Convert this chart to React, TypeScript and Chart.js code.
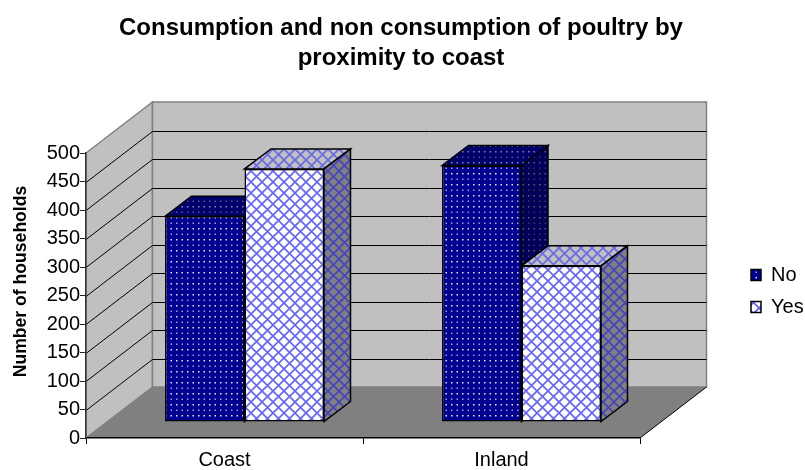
import React, { useEffect, useRef } from "react";
import { Chart, registerables } from "chart.js";

Chart.register(...registerables);

const categories = ["Coast", "Inland"];
const noValues = [361, 450];
const yesValues = [444, 274];
const titleLines = ["Consumption and non consumption of poultry by", "proximity to coast"];
const yAxisTitle = "Number of households";
const seriesNames = ["No", "Yes"];

const FONT = "'Liberation Sans', Arial, sans-serif";
const WALL = { dx: 66.5, dy: 51 };
const BAR_SHIFT = { dx: 20, dy: 16 };
const BAR_DEPTH = { dx: 26.5, dy: 20 };

function tile(size: number, paint: (c: CanvasRenderingContext2D) => void): CanvasPattern {
  const cv = document.createElement("canvas");
  cv.width = size;
  cv.height = size;
  const c = cv.getContext("2d")!;
  paint(c);
  return c.createPattern(cv, "repeat")!;
}

function dots(bg: string, bright: string, dim: string) {
  return tile(11, (c) => {
    c.fillStyle = bg;
    c.fillRect(0, 0, 11, 11);
    c.fillStyle = bright;
    c.fillRect(2, 2, 1.5, 1.5);
    c.fillRect(7.5, 2, 1.5, 1.5);
    c.fillStyle = dim;
    c.fillRect(2, 7.5, 1.5, 1.5);
    c.fillRect(7.5, 7.5, 1.5, 1.5);
  });
}

function cross(bg: string, line: string) {
  return tile(11, (c) => {
    c.fillStyle = bg;
    c.fillRect(0, 0, 11, 11);
    c.strokeStyle = line;
    c.lineWidth = 1.7;
    c.beginPath();
    c.moveTo(-1, -1);
    c.lineTo(12, 12);
    c.moveTo(-1, 12);
    c.lineTo(12, -1);
    c.stroke();
  });
}

function poly(ctx: CanvasRenderingContext2D, pts: number[][], fill: any, stroke?: string, lw = 1) {
  ctx.beginPath();
  pts.forEach((p, i) => (i ? ctx.lineTo(p[0], p[1]) : ctx.moveTo(p[0], p[1])));
  ctx.closePath();
  if (fill) {
    ctx.fillStyle = fill;
    ctx.fill();
  }
  if (stroke) {
    ctx.strokeStyle = stroke;
    ctx.lineWidth = lw;
    ctx.stroke();
  }
}

export default function App() {
  const ref = useRef<HTMLCanvasElement>(null);

  useEffect(() => {
    const faces = [
      { top: dots("#00006c", "#8a8ab8", "#50508a"), side: dots("#000058", "#60607f", "#34346a") },
      { top: cross("#c0c0c0", "#6a6ae6"), side: cross("#808080", "#4444c0") },
    ];

    const depthPlugin = {
      id: "depth3d",
      afterLayout(chart: any) {
        chart.titleBlock.left = 0;
        chart.titleBlock.right = 802;
        const lg = chart.legend;
        lg.left = 739;
        lg.top = 253;
        lg.right = lg.left + lg.width;
        lg.bottom = lg.top + lg.height;
        const ys = chart.scales.y;
        if (!ys.__shifted) {
          const orig = ys.drawTitle;
          ys.drawTitle = function () {
            const c = this.ctx;
            c.save();
            c.translate(0, -14);
            orig.call(this);
            c.restore();
          };
          ys.__shifted = true;
        }
      },
      beforeDraw(chart: any) {
        const { ctx, chartArea: a, scales } = chart;
        const { dx, dy } = WALL;
        const y = scales.y;
        ctx.save();
        // left wall, back wall, floor
        poly(ctx, [[a.left, a.bottom], [a.left, a.top], [a.left + dx, a.top - dy], [a.left + dx, a.bottom - dy]], "#c0c0c0", "#808080", 1.5);
        poly(ctx, [[a.left + dx, a.top - dy], [a.right + dx, a.top - dy], [a.right + dx, a.bottom - dy], [a.left + dx, a.bottom - dy]], "#c0c0c0", "#808080", 1.5);
        poly(ctx, [[a.left, a.bottom], [a.left + dx, a.bottom - dy], [a.right + dx, a.bottom - dy], [a.right, a.bottom]], "#808080");
        ctx.strokeStyle = "#000";
        ctx.lineWidth = 1;
        ctx.beginPath();
        ctx.moveTo(a.right, a.bottom);
        ctx.lineTo(a.right + dx, a.bottom - dy);
        ctx.stroke();
        // gridlines from the value scale
        ctx.strokeStyle = "#000";
        ctx.lineWidth = 1;
        y.ticks.forEach((t: any) => {
          if (t.value === y.min || t.value === y.max) return;
          const py = Math.round(y.getPixelForValue(t.value)) + 0.5;
          ctx.beginPath();
          ctx.moveTo(a.left, py);
          ctx.lineTo(a.left + dx, py - dy);
          ctx.lineTo(a.right + dx, py - dy);
          ctx.stroke();
        });
        ctx.restore();
      },
      beforeDatasetsDraw(chart: any) {
        const { ctx } = chart;
        const { dx, dy } = BAR_DEPTH;
        // series are painted left to right so each one overlaps the previous one's side face
        [0, 1].forEach((index) => {
          const meta = chart.getDatasetMeta(index);
          const f = faces[index];
          ctx.save();
          ctx.translate(BAR_SHIFT.dx, -BAR_SHIFT.dy);
          meta.data.forEach((b: any) => {
            const x0 = b.x - b.width / 2;
            const x1 = b.x + b.width / 2;
            poly(ctx, [[x0, b.y], [x0 + dx, b.y - dy], [x1 + dx, b.y - dy], [x1, b.y]], f.top, "#000", 1.5);
            poly(ctx, [[x1, b.y], [x1 + dx, b.y - dy], [x1 + dx, b.base - dy], [x1, b.base]], f.side, "#000", 1.5);
          });
          meta.controller.draw();
          ctx.restore();
        });
        return false;
      },
    };

    const chart = new Chart(ref.current!, {
      type: "bar",
      data: {
        labels: categories,
        datasets: [
          {
            label: seriesNames[0],
            data: noValues,
            backgroundColor: dots("#000090", "#e8e8ff", "#9a9ad8"),
            borderColor: "#000",
            borderWidth: 1.5,
            borderSkipped: false,
          },
          {
            label: seriesNames[1],
            data: yesValues,
            backgroundColor: cross("#ffffff", "#6666ff"),
            borderColor: "#000",
            borderWidth: 1.5,
            borderSkipped: false,
          },
        ],
      } as any,
      plugins: [depthPlugin],
      options: {
        responsive: false,
        animation: false,
        events: [],
        layout: { padding: { left: 0, top: 0, right: 165, bottom: 0 } },
        datasets: { bar: { categoryPercentage: 0.574, barPercentage: 1 } },
        plugins: {
          tooltip: { enabled: false },
          title: {
            display: true,
            text: titleLines,
            color: "#000",
            font: { family: FONT, size: 24, weight: "bold", lineHeight: 1.25 },
            padding: { top: 13, bottom: 80 },
          },
          legend: {
            position: "chartArea",
            align: "start",
            labels: {
              color: "#000",
              font: { family: FONT, size: 20 },
              boxWidth: 10,
              boxHeight: 11,
              padding: 12,
            },
          },
        },
        scales: {
          x: {
            grid: { drawOnChartArea: false, drawTicks: true, tickLength: 6, color: "#000" },
            border: { color: "#000", width: 1.5 },
            ticks: { color: "#000", font: { family: FONT, size: 20 }, padding: 4 },
            afterFit: (s: any) => {
              s.height = 32;
            },
          },
          y: {
            min: 0,
            max: 500,
            grid: { drawOnChartArea: false, drawTicks: true, tickLength: 6, color: "#222" },
            border: { color: "#333", width: 1.5 },
            ticks: { stepSize: 50, color: "#000", font: { family: FONT, size: 20 }, padding: 0 },
            title: {
              display: true,
              text: yAxisTitle,
              color: "#000",
              font: { family: FONT, size: 17.6, weight: "bold" },
              padding: { top: 11, bottom: 0 },
            },
            afterFit: (s: any) => {
              s.width = 86;
            },
          },
        },
      } as any,
    });
    return () => chart.destroy();
  }, []);

  return (
    <canvas
      ref={ref}
      width={805}
      height={470}
      style={{ position: "absolute", left: 0, top: 0, width: 805, height: 470, display: "block" }}
    />
  );
}
